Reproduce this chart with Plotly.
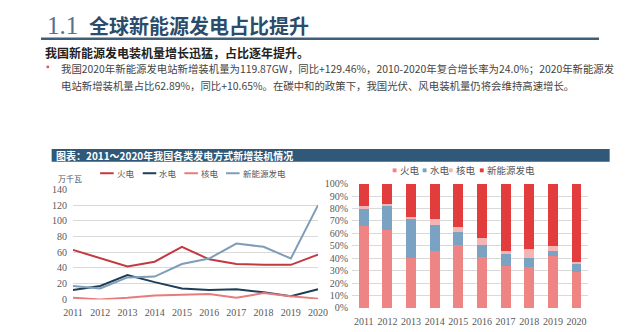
import plotly.graph_objects as go

W, H = 640, 332

years = ["2011", "2012", "2013", "2014", "2015", "2016", "2017", "2018", "2019", "2020"]

# Line chart: new installed capacity (万千瓦 label as in source)
thermal = [63, 53, 42, 48, 67, 51, 45, 44, 44, 57]
hydro = [12, 17, 31, 22, 14, 12, 13, 9, 4, 13]
nuclear = [2, 0, 2, 5, 6, 7, 2, 8, 4, 1]
renew = [17, 14, 28, 29, 45, 52, 71, 67, 52, 120]

# Stacked share chart (%)
thermal_pct = [66, 62.8, 39.8, 45.5, 50.3, 41.1, 33.8, 33.2, 41.9, 28.8]
hydro_pct = [13.6, 20.2, 31.4, 21.2, 10.4, 9.7, 9.9, 7.1, 3.9, 7.6]
nuclear_pct = [2.1, 0.3, 2.1, 5.0, 4.5, 5.7, 1.8, 7.3, 3.9, 0.5]
renew_pct = [18.3, 16.7, 26.7, 28.3, 34.8, 43.5, 54.5, 52.4, 50.3, 63.1]

series_names = ["火电", "水电", "核电", "新能源发电"]
line_colors = ["#c23a40", "#1e3d58", "#e67c7c", "#7f9db8"]
bar_colors = ["#ee8484", "#7aa2c2", "#f5b5b5", "#e23c3c"]

CJK = "Noto Sans CJK SC"
SERIF = "Liberation Serif"


def px(x):
    return x / W


def py(y):
    return 1 - y / H


fig = go.Figure()

for name, vals, col in zip(series_names, [thermal, hydro, nuclear, renew], line_colors):
    fig.add_trace(go.Scatter(x=years, y=vals, mode="lines", name=name,
                             line=dict(color=col, width=2), xaxis="x", yaxis="y",
                             showlegend=False))

for name, vals, col in zip(series_names, [thermal_pct, hydro_pct, nuclear_pct, renew_pct], bar_colors):
    fig.add_trace(go.Bar(x=years, y=vals, name=name, marker=dict(color=col, line=dict(width=0)),
                         width=0.42, xaxis="x2", yaxis="y2", showlegend=False))

tickfont = dict(family=SERIF, size=10, color="#595959")

fig.update_layout(
    width=W, height=H,
    margin=dict(l=0, r=0, t=0, b=0),
    paper_bgcolor="white", plot_bgcolor="white",
    barmode="stack",
    xaxis=dict(domain=[px(65), px(318)], type="category", showgrid=False, zeroline=False,
               showline=False, ticks="", tickfont=tickfont, anchor="y", ticklabelstandoff=6),
    yaxis=dict(domain=[py(304.5), py(190.7)], range=[0, 140], dtick=20, showgrid=True,
               gridcolor="#d9d9d9", gridwidth=1, zeroline=False, showline=False,
               tickfont=tickfont, ticks="", anchor="x", ticklabelstandoff=5),
    xaxis2=dict(domain=[px(353), px(597)], type="category", showgrid=False, zeroline=False,
                showline=False, ticks="", tickfont=tickfont, anchor="y2", ticklabelstandoff=6),
    yaxis2=dict(domain=[py(313.3), py(184.7)], range=[0, 100], dtick=10, ticksuffix="%",
                showgrid=True, gridcolor="#d9d9d9", gridwidth=1, zeroline=False, showline=False,
                tickfont=tickfont, ticks="", anchor="x2", ticklabelstandoff=3),
)

shapes = []
ann = []

# Title
ann.append(dict(x=px(36), y=py(21), text="1.1", font=dict(family=SERIF, size=25, color="#56718b"),
                xanchor="left", yanchor="middle", showarrow=False, xref="paper", yref="paper"))
ann.append(dict(x=px(79), y=py(21), text="<b>全球新能源发电占比提升</b>",
                font=dict(family=CJK, size=20, color="#2b4c6a"),
                xanchor="left", yanchor="middle", showarrow=False, xref="paper", yref="paper"))
shapes.append(dict(type="line", xref="paper", yref="paper", x0=px(32), x1=px(608), y0=py(35), y1=py(35),
                   line=dict(color="#3f5e77", width=2.5)))

# Subtitle
ann.append(dict(x=px(34), y=py(49), text="<b>我国新能源发电装机量增长迅猛，占比逐年提升。</b>",
                font=dict(family=CJK, size=12, color="#222222"),
                xanchor="left", yanchor="middle", showarrow=False, xref="paper", yref="paper"))
# Bullet
shapes.append(dict(type="circle", xref="paper", yref="paper", x0=px(37.5), x1=px(40.5), y0=py(62.5), y1=py(65.5),
                   fillcolor="#e05a5a", line=dict(width=0)))
ann.append(dict(x=px(51), y=py(66),
                text="我国2020年新能源发电站新增装机量为119.87GW，同比+129.46%，2010-2020年复合增长率为24.0%；2020年新能源发",
                font=dict(family=CJK, size=10.4, color="#444444"),
                xanchor="left", yanchor="middle", showarrow=False, xref="paper", yref="paper"))
ann.append(dict(x=px(51), y=py(83),
                text="电站新增装机量占比62.89%，同比+10.65%。在碳中和的政策下，我国光伏、风电装机量仍将会维持高速增长。",
                font=dict(family=CJK, size=10.4, color="#444444"),
                xanchor="left", yanchor="middle", showarrow=False, xref="paper", yref="paper"))

# Chart header band
shapes.append(dict(type="rect", xref="paper", yref="paper", x0=px(43), x1=px(619), y0=py(162), y1=py(149),
                   fillcolor="#2f5879", line=dict(width=0)))
ann.append(dict(x=px(45), y=py(155.5), text="<b>图表：2011～2020年我国各类发电方式新增装机情况</b>",
                font=dict(family=CJK, size=10, color="white"),
                xanchor="left", yanchor="middle", showarrow=False, xref="paper", yref="paper"))

# Unit label
ann.append(dict(x=px(47), y=py(179), text="万千瓦", font=dict(family=CJK, size=8, color="#555555"),
                xanchor="left", yanchor="middle", showarrow=False, xref="paper", yref="paper"))

# Line chart legend
leg_x = [93, 137, 180, 223]
for lx, name, col in zip(leg_x, series_names, line_colors):
    shapes.append(dict(type="line", xref="paper", yref="paper", x0=px(lx), x1=px(lx + 14),
                       y0=py(174), y1=py(174), line=dict(color=col, width=2)))
    ann.append(dict(x=px(lx + 15), y=py(174), text=name, font=dict(family=CJK, size=8.5, color="#555555"),
                    xanchor="left", yanchor="middle", showarrow=False, xref="paper", yref="paper"))

# Bar chart legend
bleg_x = [395, 426, 453, 485]
for lx, name, col in zip(bleg_x, series_names, bar_colors):
    shapes.append(dict(type="rect", xref="paper", yref="paper", x0=px(lx), x1=px(lx + 4),
                       y0=py(173), y1=py(169), fillcolor=col, line=dict(width=0)))
    ann.append(dict(x=px(lx + 5), y=py(171), text=name, font=dict(family=CJK, size=9.5, color="#555555"),
                    xanchor="left", yanchor="middle", showarrow=False, xref="paper", yref="paper"))

fig.update_layout(shapes=shapes, annotations=ann)

fig.write_html("out.html")
